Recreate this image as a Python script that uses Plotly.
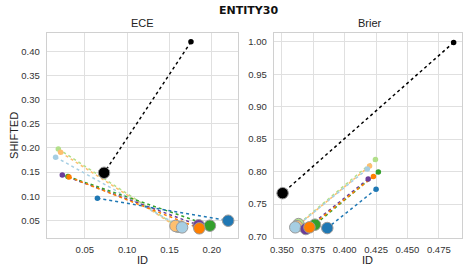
import plotly.graph_objects as go

W, H = 469, 276

series_names = ["black", "lightgreen", "lightorange", "lightblue", "purple", "green", "orange", "blue"]
colors = ["#000000", "#b2df8a", "#fdbf6f", "#a6cee3", "#6a3d9a", "#33a02c", "#ff7f00", "#1f78b4"]

# ECE: (ID, SHIFTED) for the small and large markers of each series
ece_small_id = [0.1754, 0.0186, 0.0213, 0.0154, 0.0233, 0.0300, 0.0312, 0.0648]
ece_small_sh = [0.4196, 0.1980, 0.1910, 0.1810, 0.1440, 0.1410, 0.1400, 0.0959]
ece_large_id = [0.0727, 0.1600, 0.1571, 0.1649, 0.1845, 0.1978, 0.1853, 0.2194]
ece_large_sh = [0.1486, 0.0370, 0.0386, 0.0357, 0.0400, 0.0392, 0.0337, 0.0494]

# Brier
brier_small_id = [0.4868, 0.4245, 0.4198, 0.4180, 0.4187, 0.4268, 0.4229, 0.4250]
brier_small_sh = [0.9990, 0.8188, 0.8085, 0.8040, 0.7887, 0.7994, 0.7924, 0.7730]
brier_large_id = [0.3505, 0.3632, 0.3620, 0.3606, 0.3690, 0.3763, 0.3719, 0.3861]
brier_large_sh = [0.7668, 0.7192, 0.7160, 0.7142, 0.7116, 0.7183, 0.7142, 0.7131]

ece_xticks = [0.05, 0.10, 0.15, 0.20]
ece_yticks = [0.05, 0.10, 0.15, 0.20, 0.25, 0.30, 0.35, 0.40]
brier_xticks = [0.350, 0.375, 0.400, 0.425, 0.450, 0.475]
brier_yticks = [0.70, 0.75, 0.80, 0.85, 0.90, 0.95, 1.00]

fig = go.Figure()

def add_panel(sx, sy, lx, ly, xa, ya):
    # lines
    for i in range(len(series_names)):
        fig.add_trace(go.Scatter(
            x=[sx[i], lx[i]], y=[sy[i], ly[i]], mode="lines",
            line=dict(color=colors[i], width=1.5, dash="dot"),
            xaxis=xa, yaxis=ya, showlegend=False, hoverinfo="skip"))
    # small markers
    for i in range(len(series_names)):
        fig.add_trace(go.Scatter(
            x=[sx[i]], y=[sy[i]], mode="markers",
            marker=dict(color=colors[i], size=5.5, line=dict(width=0)),
            xaxis=xa, yaxis=ya, showlegend=False))
    # large markers
    for i in range(len(series_names)):
        fig.add_trace(go.Scatter(
            x=[lx[i]], y=[ly[i]], mode="markers",
            marker=dict(color=colors[i], size=11.5, line=dict(width=1, color="#9a9a9a")),
            xaxis=xa, yaxis=ya, showlegend=False))

add_panel(ece_small_id, ece_small_sh, ece_large_id, ece_large_sh, "x", "y")
add_panel(brier_small_id, brier_small_sh, brier_large_id, brier_large_sh, "x2", "y2")

ydom = [35 / H, 1 - 33 / H]
tickfont = dict(family="Liberation Sans, Arial", size=9.5, color="#333333")
axis_common = dict(
    showgrid=True, gridcolor="#e0e0e0", gridwidth=1,
    showline=True, linecolor="#d0d0d0", linewidth=1, mirror=True,
    zeroline=False, ticks="", tickfont=tickfont,
)
fig.update_layout(
    width=W, height=H,
    margin=dict(l=0, r=0, t=0, b=0),
    paper_bgcolor="white", plot_bgcolor="white",
    xaxis=dict(domain=[43 / W, 236 / W], range=[0.0048, 0.231], tickvals=ece_xticks,
               tickformat=".2f", anchor="y", ticklabelstandoff=3, **axis_common),
    yaxis=dict(domain=ydom, range=[0.0147, 0.4388], tickvals=ece_yticks,
               tickformat=".2f", anchor="x", ticklabelstandoff=4, **axis_common),
    xaxis2=dict(domain=[272 / W, 462 / W], range=[0.3434, 0.4935], tickvals=brier_xticks,
                tickformat=".3f", anchor="y2", ticklabelstandoff=3, **axis_common),
    yaxis2=dict(domain=ydom, range=[0.6985, 1.0143], tickvals=brier_yticks,
                tickformat=".2f", anchor="x2", ticklabelstandoff=4, **axis_common),
    font=dict(family="Liberation Sans, Arial", color="#222222"),
)

ann_font = dict(family="Liberation Sans, Arial", size=11, color="#222222")

def label(text, px, py, font=ann_font, angle=0):
    fig.add_annotation(text=text, x=px / W, y=1 - py / H, xref="paper", yref="paper",
                       xanchor="center", yanchor="middle", showarrow=False,
                       textangle=angle, font=font)

label("<b>ENTITY30</b>", 247, 11, dict(family="DejaVu Sans, Liberation Sans", size=11, color="#111111"))
label("ECE", 139.5, 23)
label("Brier", 369, 23)
label("ID", 139.5, 264)
label("ID", 367, 264)
label("SHIFTED", 10, 137, angle=-90)

fig.write_html("out.html", config={"displayModeBar": False},
               post_script="document.body.style.margin='0';document.body.style.overflow='hidden';")
